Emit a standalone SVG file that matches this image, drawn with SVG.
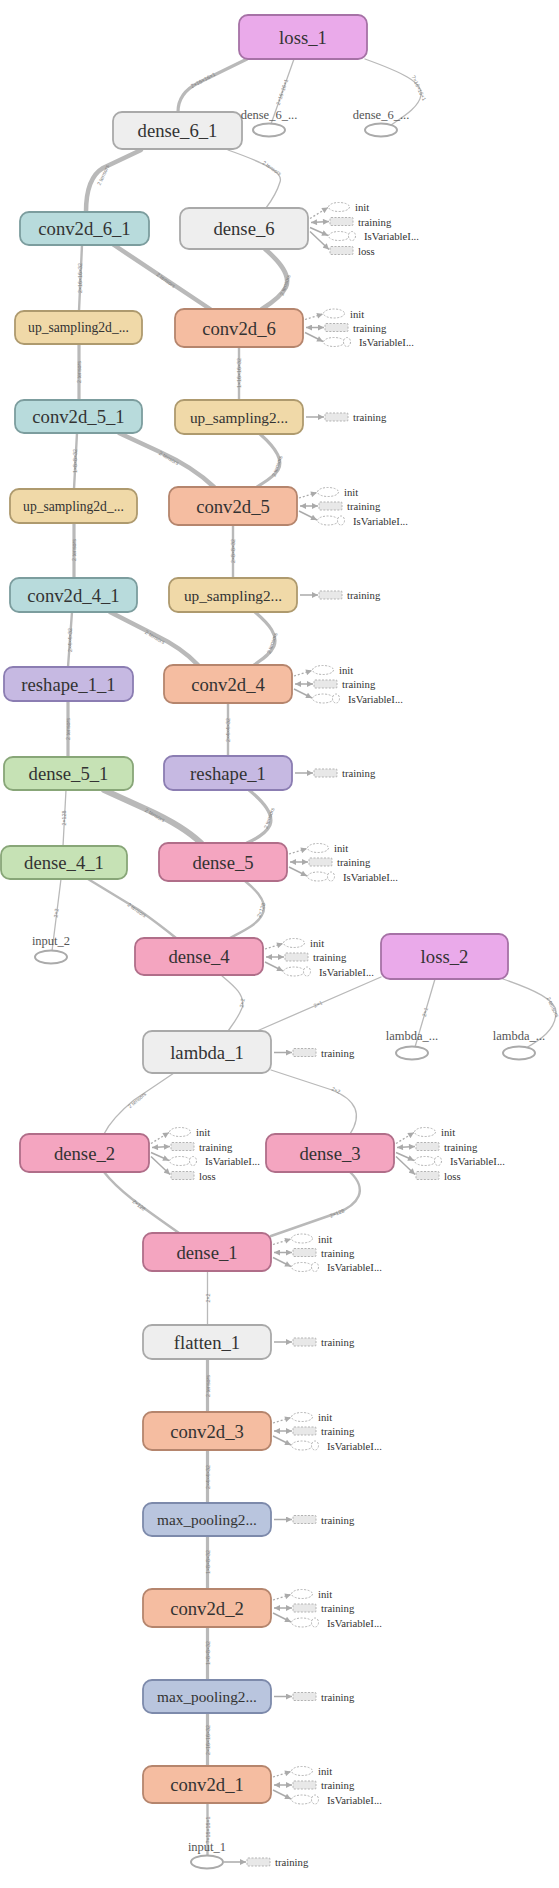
<svg xmlns="http://www.w3.org/2000/svg" width="559" height="1888" viewBox="0 0 559 1888">
<style>
.bg{fill:#ffffff}
.e{fill:none;stroke:#b9b9b9;stroke-linecap:round}
.w1{stroke-width:1.3}.w2{stroke-width:2.4}.w3{stroke-width:3.2}.w4{stroke-width:4.5}.w5{stroke-width:6}
.el{font-family:"Liberation Sans",Arial,sans-serif;font-size:5.3px;fill:#7e7e7e;text-anchor:middle;dominant-baseline:central}
.node rect{stroke-width:1.8}
.node text{font-family:"Liberation Serif","Times New Roman",serif;font-size:18.7px;fill:#333;text-anchor:middle;dominant-baseline:central}
.node.sm text{font-size:13.6px}
.node.md text{font-size:15.3px}
.c-loss rect{fill:#eaaaea;stroke:#a672a6}
.c-gray rect{fill:#eeeeee;stroke:#a9a9a9}
.c-teal rect{fill:#b8dbdc;stroke:#7c9d9e}
.c-tan rect{fill:#f0d9a8;stroke:#ae9a6e}
.c-salmon rect{fill:#f5bda1;stroke:#b5856d}
.c-lav rect{fill:#c6b9e2;stroke:#8b7db2}
.c-green rect{fill:#c6e2b5;stroke:#88a678}
.c-pink rect{fill:#f4a5c0;stroke:#b06e89}
.c-blue rect{fill:#b9c5de;stroke:#7d8aab}
.inode ellipse{fill:#fff;stroke:#aaa;stroke-width:2}
.inode text{font-family:"Liberation Serif","Times New Roman",serif;font-size:12.5px;fill:#555;text-anchor:middle;dominant-baseline:central}
.ad{fill:none;stroke:#aaa;stroke-width:1.3;stroke-dasharray:2 2}
.al{fill:none;stroke:#aaa;stroke-width:1.5}
.ae{fill:#fff;stroke:#b3b3b3;stroke-width:1;stroke-dasharray:2 1.5}
.ar{fill:#e8e8e8;stroke:#b3b3b3;stroke-width:1;stroke-dasharray:2 1.5}
.at{font-family:"Liberation Serif","Times New Roman",serif;font-size:10.7px;fill:#333;dominant-baseline:central}
</style>
<defs>
<marker id="ah" viewBox="0 0 10 10" refX="10" refY="5" markerUnits="userSpaceOnUse" markerWidth="7" markerHeight="6" orient="auto-start-reverse"><path d="M0 0L10 5L0 10z" fill="#aaa"/></marker>
<g id="aux1">
<path class="al" d="M3 0L21 0" marker-end="url(#ah)"/>
<rect class="ar" x="22" y="-4" width="23" height="8" rx="1"/>
<text class="at" x="50" y="0">training</text>
</g>
<g id="aux3">
<path class="ad" d="M2 -8L20 -13.5" marker-end="url(#ah)"/>
<ellipse class="ae" cx="31" cy="-14" rx="10.5" ry="4.5"/>
<text class="at" x="47" y="-14">init</text>
<path class="al" d="M3 0L21 0" marker-start="url(#ah)" marker-end="url(#ah)"/>
<rect class="ar" x="22" y="-4" width="23" height="8" rx="1"/>
<text class="at" x="50" y="0">training</text>
<path class="al" d="M2 5L20 14" marker-end="url(#ah)"/>
<ellipse class="ae" cx="31" cy="14.5" rx="10.5" ry="4.5"/>
<ellipse class="ae" cx="44" cy="14.5" rx="3.5" ry="4.5"/>
<text class="at" x="56" y="14.5">IsVariableI...</text>
</g>
<g id="aux4">
<path class="ad" d="M2 -3L20 -14" marker-end="url(#ah)"/>
<ellipse class="ae" cx="31" cy="-14.5" rx="10.5" ry="4.5"/>
<text class="at" x="47" y="-14.5">init</text>
<path class="al" d="M3 1L21 0" marker-start="url(#ah)" marker-end="url(#ah)"/>
<rect class="ar" x="22" y="-4" width="23" height="8" rx="1"/>
<text class="at" x="50" y="0">training</text>
<path class="al" d="M2 6L20 14" marker-end="url(#ah)"/>
<ellipse class="ae" cx="31" cy="14.5" rx="10.5" ry="4.5"/>
<ellipse class="ae" cx="44" cy="14.5" rx="3.5" ry="4.5"/>
<text class="at" x="56" y="14.5">IsVariableI...</text>
<path class="al" d="M2 10L21 28" marker-end="url(#ah)"/>
<rect class="ar" x="22" y="25" width="23" height="8" rx="1"/>
<text class="at" x="50" y="29">loss</text>
</g>
</defs>
<rect class="bg" x="0" y="0" width="559" height="1888"/>

<g id="connectors">
<path class="e w3" d="M247 59L198 83Q178 93 178 112"/>
<path class="e w1" d="M294 59L271 124"/>
<path class="e w1" d="M365 59C401 72 423 82 421 95C419 108 401 118 391 125"/>
<path class="e w4" d="M141 150L103 168Q86 178 86 212"/>
<path class="e w1" d="M228 150C262 162 284 172 280 182C277 192 272 200 266 208"/>
<path class="e w2" d="M82 245L79 311"/>
<path class="e w4" d="M114 245L210 309"/>
<path class="e w4" d="M265 249C280 262 291 275 286 287C281 297 270 304 262 309"/>
<path class="e w3" d="M79 344L79 400"/>
<path class="e w2" d="M239 347L239 400"/>
<path class="e w2" d="M77 433L74 489"/>
<path class="e w4" d="M119 433L160 452Q193 467 214 487"/>
<path class="e w3" d="M260 434C276 448 284 460 278 470C273 478 264 482 257 487"/>
<path class="e w3" d="M74 523L74 578"/>
<path class="e w2" d="M233 525L233 578"/>
<path class="e w2" d="M72 612L68 667"/>
<path class="e w4" d="M110 612L155 635Q182 648 198 665"/>
<path class="e w3" d="M255 612C270 625 278 635 274 646C270 655 261 660 254 665"/>
<path class="e w2" d="M228 703L228 756"/>
<path class="e w3" d="M68 701L68 757"/>
<path class="e w3" d="M249 790C265 803 274 815 270 825C266 834 256 839 247 843"/>
<path class="e w1" d="M66 790L63 846"/>
<path class="e w5" d="M104 790L148 810Q183 826 201 843"/>
<path class="e w1" d="M61 879L52 951"/>
<path class="e w2" d="M88 879L139 910Q160 925 176 938"/>
<path class="e w2" d="M245 881C260 893 268 905 262 915C257 925 241 932 230 938"/>
<path class="e w1" d="M221 975C233 985 246 995 242 1008C238 1018 233 1024 228 1031"/>
<path class="e w1" d="M381 977L257 1031"/>
<path class="e w1" d="M435 979L415 1047"/>
<path class="e w1" d="M503 979C535 990 556 1000 556 1012C556 1030 540 1040 526 1048"/>
<path class="e w1" d="M174 1073L134 1100Q112 1118 104 1134"/>
<path class="e w1" d="M271 1070L332 1090Q369 1105 350 1134"/>
<path class="e w2" d="M104 1172C118 1190 139 1205 179 1233"/>
<path class="e w2" d="M350 1172C369 1190 358 1205 337 1213L271 1236"/>
<path class="e w1" d="M207.5 1271L207.5 1325"/>
<path class="e w3" d="M207.5 1359L207.5 1412"/>
<path class="e w3" d="M207.5 1450L207.5 1503"/>
<path class="e w3" d="M207.5 1536L207.5 1589"/>
<path class="e w3" d="M207.5 1627L207.5 1680"/>
<path class="e w3" d="M207.5 1713L207.5 1766"/>
<path class="e w2" d="M207.5 1803L207.5 1856"/>
<g id="edge-labels">
<text class="el" transform="translate(203 80) rotate(-28)">2×16×16×1</text>
<text class="el" transform="translate(282 92) rotate(-71)">2×16×16×1</text>
<text class="el" transform="translate(419 88) rotate(65)">?×16×16×1</text>
<text class="el" transform="translate(103 175) rotate(-65)">2 tensors</text>
<text class="el" transform="translate(272 168) rotate(35)">2 tensors</text>
<text class="el" transform="translate(80 278) rotate(-90)">2×16×16×32</text>
<text class="el" transform="translate(166 280) rotate(36)">2 tensors</text>
<text class="el" transform="translate(285 285) rotate(-70)">2 tensors</text>
<text class="el" transform="translate(79 372) rotate(-90)">2 tensors</text>
<text class="el" transform="translate(239 373) rotate(-90)">1×16×16×32</text>
<text class="el" transform="translate(75 461) rotate(-90)">1×8×8×32</text>
<text class="el" transform="translate(169 458) rotate(30)">2 tensors</text>
<text class="el" transform="translate(277 466) rotate(-70)">2 tensors</text>
<text class="el" transform="translate(74 550) rotate(-90)">2 tensors</text>
<text class="el" transform="translate(233 551) rotate(-90)">2×8×8×32</text>
<text class="el" transform="translate(70 640) rotate(-90)">2×4×4×32</text>
<text class="el" transform="translate(155 637) rotate(30)">2 tensors</text>
<text class="el" transform="translate(272 643) rotate(-70)">2 tensors</text>
<text class="el" transform="translate(228 730) rotate(-90)">2×4×4×32</text>
<text class="el" transform="translate(68 729) rotate(-90)">2 tensors</text>
<text class="el" transform="translate(64 818) rotate(-90)">2×128</text>
<text class="el" transform="translate(155 815) rotate(30)">2 tensors</text>
<text class="el" transform="translate(269 818) rotate(-70)">2 tensors</text>
<text class="el" transform="translate(56 913) rotate(-83)">2×2</text>
<text class="el" transform="translate(137 910) rotate(35)">2 tensors</text>
<text class="el" transform="translate(261 910) rotate(-70)">2×128</text>
<text class="el" transform="translate(242 1003) rotate(-80)">2×2</text>
<text class="el" transform="translate(318 1004) rotate(-25)">2×1</text>
<text class="el" transform="translate(425 1012) rotate(-74)">2×1</text>
<text class="el" transform="translate(553 1007) rotate(65)">2 tensors</text>
<text class="el" transform="translate(137 1100) rotate(-40)">2 tensors</text>
<text class="el" transform="translate(336 1090) rotate(25)">2×2</text>
<text class="el" transform="translate(139 1205) rotate(38)">2×128</text>
<text class="el" transform="translate(337 1213) rotate(-22)">2×128</text>
<text class="el" transform="translate(207.5 1298) rotate(-90)">2×2</text>
<text class="el" transform="translate(207.5 1386) rotate(-90)">2 tensors</text>
<text class="el" transform="translate(207.5 1477) rotate(-90)">2×4×4×32</text>
<text class="el" transform="translate(207.5 1562) rotate(-90)">1×8×8×32</text>
<text class="el" transform="translate(207.5 1653) rotate(-90)">1×8×8×32</text>
<text class="el" transform="translate(207.5 1740) rotate(-90)">2×16×16×32</text>
<text class="el" transform="translate(207.5 1830) rotate(-90)">?×16×16×1</text>
</g>
</g>

<g id="node-loss_1" class="node c-loss"><rect x="239" y="15" width="128" height="44" rx="9"/><text x="303" y="37">loss_1</text></g>
<g id="node-dense_6_1" class="node c-gray"><rect x="113" y="112" width="129" height="37" rx="9"/><text x="177.5" y="130.5">dense_6_1</text></g>
<g id="node-dense_6_a" class="inode"><text x="269" y="115">dense_6_...</text><ellipse cx="269" cy="130" rx="16" ry="6.5"/></g>
<g id="node-dense_6_b" class="inode"><text x="381" y="115">dense_6_...</text><ellipse cx="381" cy="130" rx="16" ry="6.5"/></g>
<g id="node-conv2d_6_1" class="node c-teal"><rect x="20" y="212" width="129" height="33" rx="9"/><text x="84.5" y="228.5">conv2d_6_1</text></g>
<g id="node-dense_6" class="node c-gray"><rect x="180" y="208" width="128" height="41" rx="9"/><text x="244" y="228.5">dense_6</text></g>
<use href="#aux4" x="308" y="221.5"/>
<g id="node-up_sampling2d_L1" class="node c-tan sm"><rect x="15" y="311" width="127" height="33" rx="9"/><text x="78.5" y="327.5">up_sampling2d_...</text></g>
<g id="node-conv2d_6" class="node c-salmon"><rect x="175" y="309" width="128" height="38" rx="9"/><text x="239" y="328">conv2d_6</text></g>
<use href="#aux3" x="303" y="327.5"/>
<g id="node-conv2d_5_1" class="node c-teal"><rect x="15" y="400" width="127" height="33" rx="9"/><text x="78.5" y="416.5">conv2d_5_1</text></g>
<g id="node-up_sampling2d_R1" class="node c-tan md"><rect x="175" y="400" width="128" height="34" rx="9"/><text x="239" y="417">up_sampling2...</text></g>
<use href="#aux1" x="303" y="417"/>
<g id="node-up_sampling2d_L2" class="node c-tan sm"><rect x="10" y="489" width="127" height="34" rx="9"/><text x="73.5" y="506">up_sampling2d_...</text></g>
<g id="node-conv2d_5" class="node c-salmon"><rect x="169" y="487" width="128" height="38" rx="9"/><text x="233" y="506">conv2d_5</text></g>
<use href="#aux3" x="297" y="506"/>
<g id="node-conv2d_4_1" class="node c-teal"><rect x="10" y="578" width="127" height="34" rx="9"/><text x="73.5" y="595">conv2d_4_1</text></g>
<g id="node-up_sampling2d_R2" class="node c-tan md"><rect x="169" y="578" width="128" height="34" rx="9"/><text x="233" y="595">up_sampling2...</text></g>
<use href="#aux1" x="297" y="595"/>
<g id="node-reshape_1_1" class="node c-lav"><rect x="4" y="667" width="129" height="34" rx="9"/><text x="68.5" y="684">reshape_1_1</text></g>
<g id="node-conv2d_4" class="node c-salmon"><rect x="164" y="665" width="128" height="38" rx="9"/><text x="228" y="684">conv2d_4</text></g>
<use href="#aux3" x="292" y="684"/>
<g id="node-dense_5_1" class="node c-green"><rect x="4" y="757" width="129" height="33" rx="9"/><text x="68.5" y="773.5">dense_5_1</text></g>
<g id="node-reshape_1" class="node c-lav"><rect x="164" y="756" width="128" height="34" rx="9"/><text x="228" y="773">reshape_1</text></g>
<use href="#aux1" x="292" y="773"/>
<g id="node-dense_4_1" class="node c-green"><rect x="1" y="846" width="126" height="33" rx="9"/><text x="64" y="862.5">dense_4_1</text></g>
<g id="node-dense_5" class="node c-pink"><rect x="159" y="843" width="128" height="38" rx="9"/><text x="223" y="862">dense_5</text></g>
<use href="#aux3" x="287" y="862"/>
<g id="node-input_2" class="inode"><text x="51" y="941">input_2</text><ellipse cx="51" cy="957" rx="16" ry="6.5"/></g>
<g id="node-dense_4" class="node c-pink"><rect x="135" y="938" width="128" height="37" rx="9"/><text x="199" y="956.5">dense_4</text></g>
<use href="#aux3" x="263" y="957"/>
<g id="node-loss_2" class="node c-loss"><rect x="381" y="934" width="127" height="45" rx="9"/><text x="444.5" y="956.5">loss_2</text></g>
<g id="node-lambda_a" class="inode"><text x="412" y="1036">lambda_...</text><ellipse cx="412" cy="1053" rx="16" ry="6.5"/></g>
<g id="node-lambda_b" class="inode"><text x="519" y="1036">lambda_...</text><ellipse cx="519" cy="1053" rx="16" ry="6.5"/></g>
<g id="node-lambda_1" class="node c-gray"><rect x="143" y="1031" width="128" height="42" rx="9"/><text x="207" y="1052">lambda_1</text></g>
<use href="#aux1" x="271" y="1052.5"/>
<g id="node-dense_2" class="node c-pink"><rect x="20" y="1134" width="129" height="38" rx="9"/><text x="84.5" y="1153">dense_2</text></g>
<use href="#aux4" x="149" y="1146.5"/>
<g id="node-dense_3" class="node c-pink"><rect x="266" y="1134" width="128" height="38" rx="9"/><text x="330" y="1153">dense_3</text></g>
<use href="#aux4" x="394" y="1146.5"/>
<g id="node-dense_1" class="node c-pink"><rect x="143" y="1233" width="128" height="38" rx="9"/><text x="207" y="1252">dense_1</text></g>
<use href="#aux3" x="271" y="1252.5"/>
<g id="node-flatten_1" class="node c-gray"><rect x="143" y="1325" width="128" height="34" rx="9"/><text x="207" y="1342">flatten_1</text></g>
<use href="#aux1" x="271" y="1342"/>
<g id="node-conv2d_3" class="node c-salmon"><rect x="143" y="1412" width="128" height="38" rx="9"/><text x="207" y="1431">conv2d_3</text></g>
<use href="#aux3" x="271" y="1431"/>
<g id="node-max_pooling2d_a" class="node c-blue md"><rect x="143" y="1503" width="128" height="33" rx="9"/><text x="207" y="1519.5">max_pooling2...</text></g>
<use href="#aux1" x="271" y="1519.5"/>
<g id="node-conv2d_2" class="node c-salmon"><rect x="143" y="1589" width="128" height="38" rx="9"/><text x="207" y="1608">conv2d_2</text></g>
<use href="#aux3" x="271" y="1608"/>
<g id="node-max_pooling2d_b" class="node c-blue md"><rect x="143" y="1680" width="128" height="33" rx="9"/><text x="207" y="1696.5">max_pooling2...</text></g>
<use href="#aux1" x="271" y="1696.5"/>
<g id="node-conv2d_1" class="node c-salmon"><rect x="143" y="1766" width="128" height="37" rx="9"/><text x="207" y="1784.5">conv2d_1</text></g>
<use href="#aux3" x="271" y="1785"/>
<g id="node-input_1" class="inode"><text x="207" y="1847">input_1</text><ellipse cx="207" cy="1862" rx="16" ry="6.5"/></g>
<g id="input_1-aux">
<path class="al" d="M224 1862L246 1862" marker-end="url(#ah)"/>
<rect class="ar" x="247" y="1858" width="23" height="8" rx="1"/>
<text class="at" x="275" y="1862">training</text>
</g>
</svg>
